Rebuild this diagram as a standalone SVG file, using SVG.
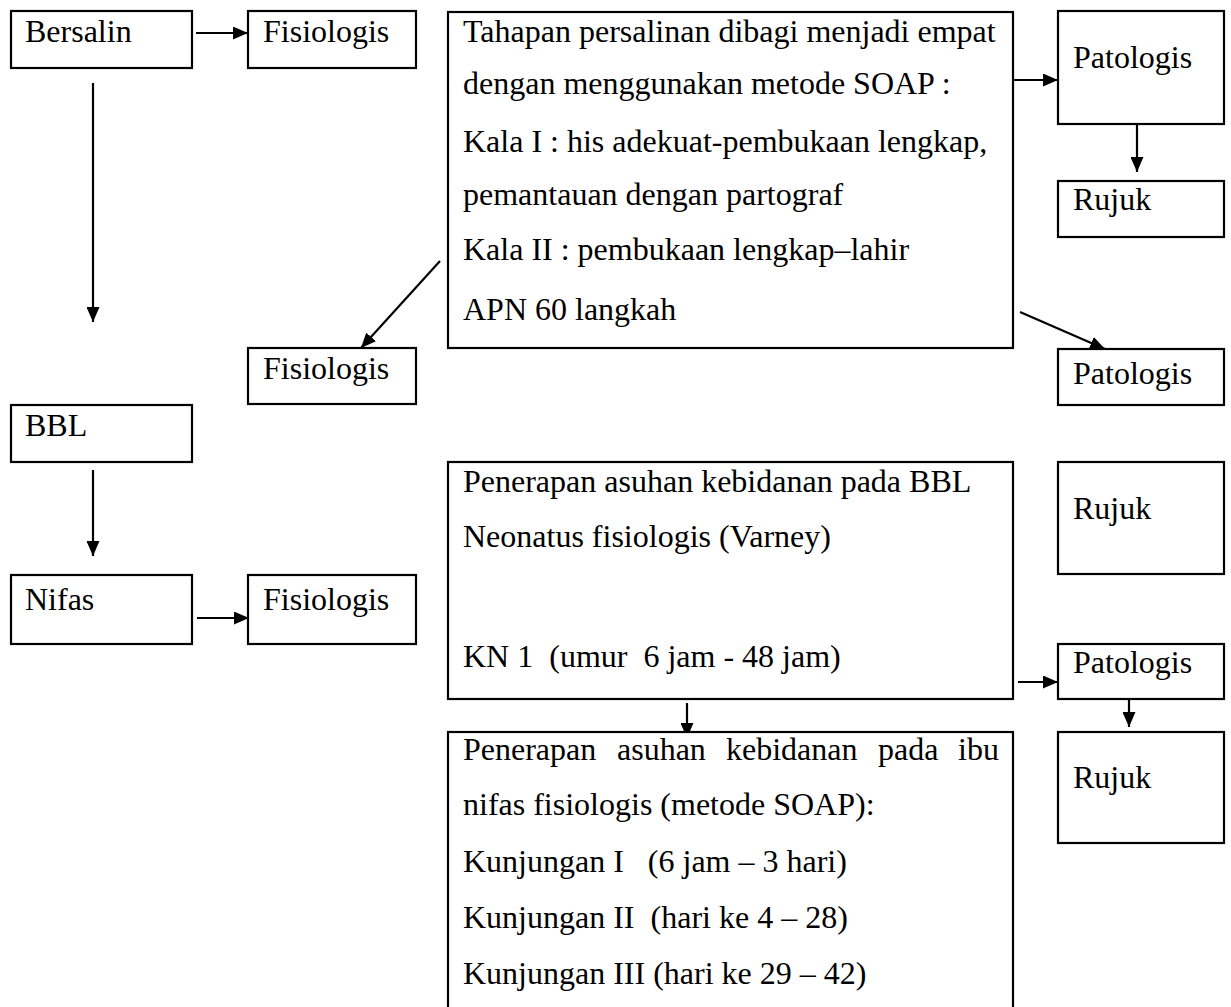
<svg xmlns="http://www.w3.org/2000/svg" width="1231" height="1007" viewBox="0 0 1231 1007" xml:space="preserve">
<style>
.box{fill:#fff;stroke:#000;stroke-width:2.2}
.t{font-family:"Liberation Serif","Times New Roman",serif;font-size:32px;fill:#000;white-space:pre}
.c{stroke:#000;stroke-width:2.2;fill:none;marker-end:url(#ah)}
</style>
<defs>
<marker id="ah" markerUnits="userSpaceOnUse" markerWidth="16" markerHeight="13" refX="15" refY="6.5" orient="auto">
<path d="M0,0 L15,6.5 L0,13 z" fill="#000"/>
</marker>
</defs>
<rect width="1231" height="1007" fill="#fff"/>
<g id="connectors">
<line class="c" x1="196" y1="33" x2="248" y2="33"/>
<line class="c" x1="93" y1="83" x2="93" y2="322"/>
<line class="c" x1="93" y1="470" x2="93" y2="556"/>
<line class="c" x1="197" y1="618" x2="249" y2="618"/>
<line class="c" x1="440" y1="261" x2="361" y2="348"/>
<line class="c" x1="1007" y1="80" x2="1058" y2="80"/>
<line class="c" x1="1137" y1="124" x2="1137" y2="172"/>
<line class="c" x1="1020" y1="312" x2="1105" y2="349"/>
<line class="c" x1="1018" y1="682" x2="1058" y2="682"/>
<line class="c" x1="1129" y1="693" x2="1129" y2="727"/>
<line class="c" x1="687" y1="703" x2="687" y2="738"/>
</g>
<g id="bersalin"><rect class="box" x="11" y="11" width="181" height="57"/><text class="t" x="25" y="42">Bersalin</text></g>
<g id="fisiologis1"><rect class="box" x="248" y="11" width="168" height="57"/><text class="t" x="263" y="42">Fisiologis</text></g>
<g id="tahapan"><rect class="box" x="448" y="12" width="565" height="336"/>
<text class="t" x="463" y="42">Tahapan persalinan dibagi menjadi empat</text>
<text class="t" x="463" y="94">dengan menggunakan metode SOAP :</text>
<text class="t" x="463" y="152">Kala I : his adekuat-pembukaan lengkap,</text>
<text class="t" x="463" y="205">pemantauan dengan partograf</text>
<text class="t" x="463" y="260">Kala II : pembukaan lengkap–lahir</text>
<text class="t" x="463" y="320">APN 60 langkah</text>
</g>
<g id="patologis1"><rect class="box" x="1058" y="11" width="166" height="113"/><text class="t" x="1073" y="68">Patologis</text></g>
<g id="rujuk1"><rect class="box" x="1058" y="181" width="166" height="56"/><text class="t" x="1073" y="210">Rujuk</text></g>
<g id="fisiologis2"><rect class="box" x="248" y="348" width="168" height="56"/><text class="t" x="263" y="379">Fisiologis</text></g>
<g id="patologis2"><rect class="box" x="1058" y="349" width="166" height="56"/><text class="t" x="1073" y="384">Patologis</text></g>
<g id="bbl"><rect class="box" x="11" y="405" width="181" height="57"/><text class="t" x="25" y="436">BBL</text></g>
<g id="nifas"><rect class="box" x="11" y="575" width="181" height="69"/><text class="t" x="25" y="610">Nifas</text></g>
<g id="fisiologis3"><rect class="box" x="248" y="575" width="168" height="69"/><text class="t" x="263" y="610">Fisiologis</text></g>
<g id="bbl-asuhan"><rect class="box" x="448" y="462" width="565" height="237"/>
<text class="t" x="463" y="492">Penerapan asuhan kebidanan pada BBL</text>
<text class="t" x="463" y="547">Neonatus fisiologis (Varney)</text>
<text class="t" x="463" y="667">KN 1  (umur  6 jam - 48 jam)</text>
</g>
<g id="rujuk2"><rect class="box" x="1058" y="462" width="166" height="112"/><text class="t" x="1073" y="519">Rujuk</text></g>
<g id="patologis3"><rect class="box" x="1058" y="644" width="166" height="55"/><text class="t" x="1073" y="673">Patologis</text></g>
<g id="rujuk3"><rect class="box" x="1058" y="732" width="166" height="111"/><text class="t" x="1073" y="788">Rujuk</text></g>
<g id="nifas-asuhan"><rect class="box" x="448" y="732" width="565" height="290"/>
<text class="t" y="760"><tspan x="463">Penerapan</tspan><tspan x="617">asuhan</tspan><tspan x="726">kebidanan</tspan><tspan x="878">pada</tspan><tspan x="958">ibu</tspan></text>
<text class="t" x="463" y="815">nifas fisiologis (metode SOAP):</text>
<text class="t" x="463" y="872">Kunjungan I   (6 jam – 3 hari)</text>
<text class="t" x="463" y="928">Kunjungan II  (hari ke 4 – 28)</text>
<text class="t" x="463" y="984">Kunjungan III (hari ke 29 – 42)</text>
</g>
</svg>
